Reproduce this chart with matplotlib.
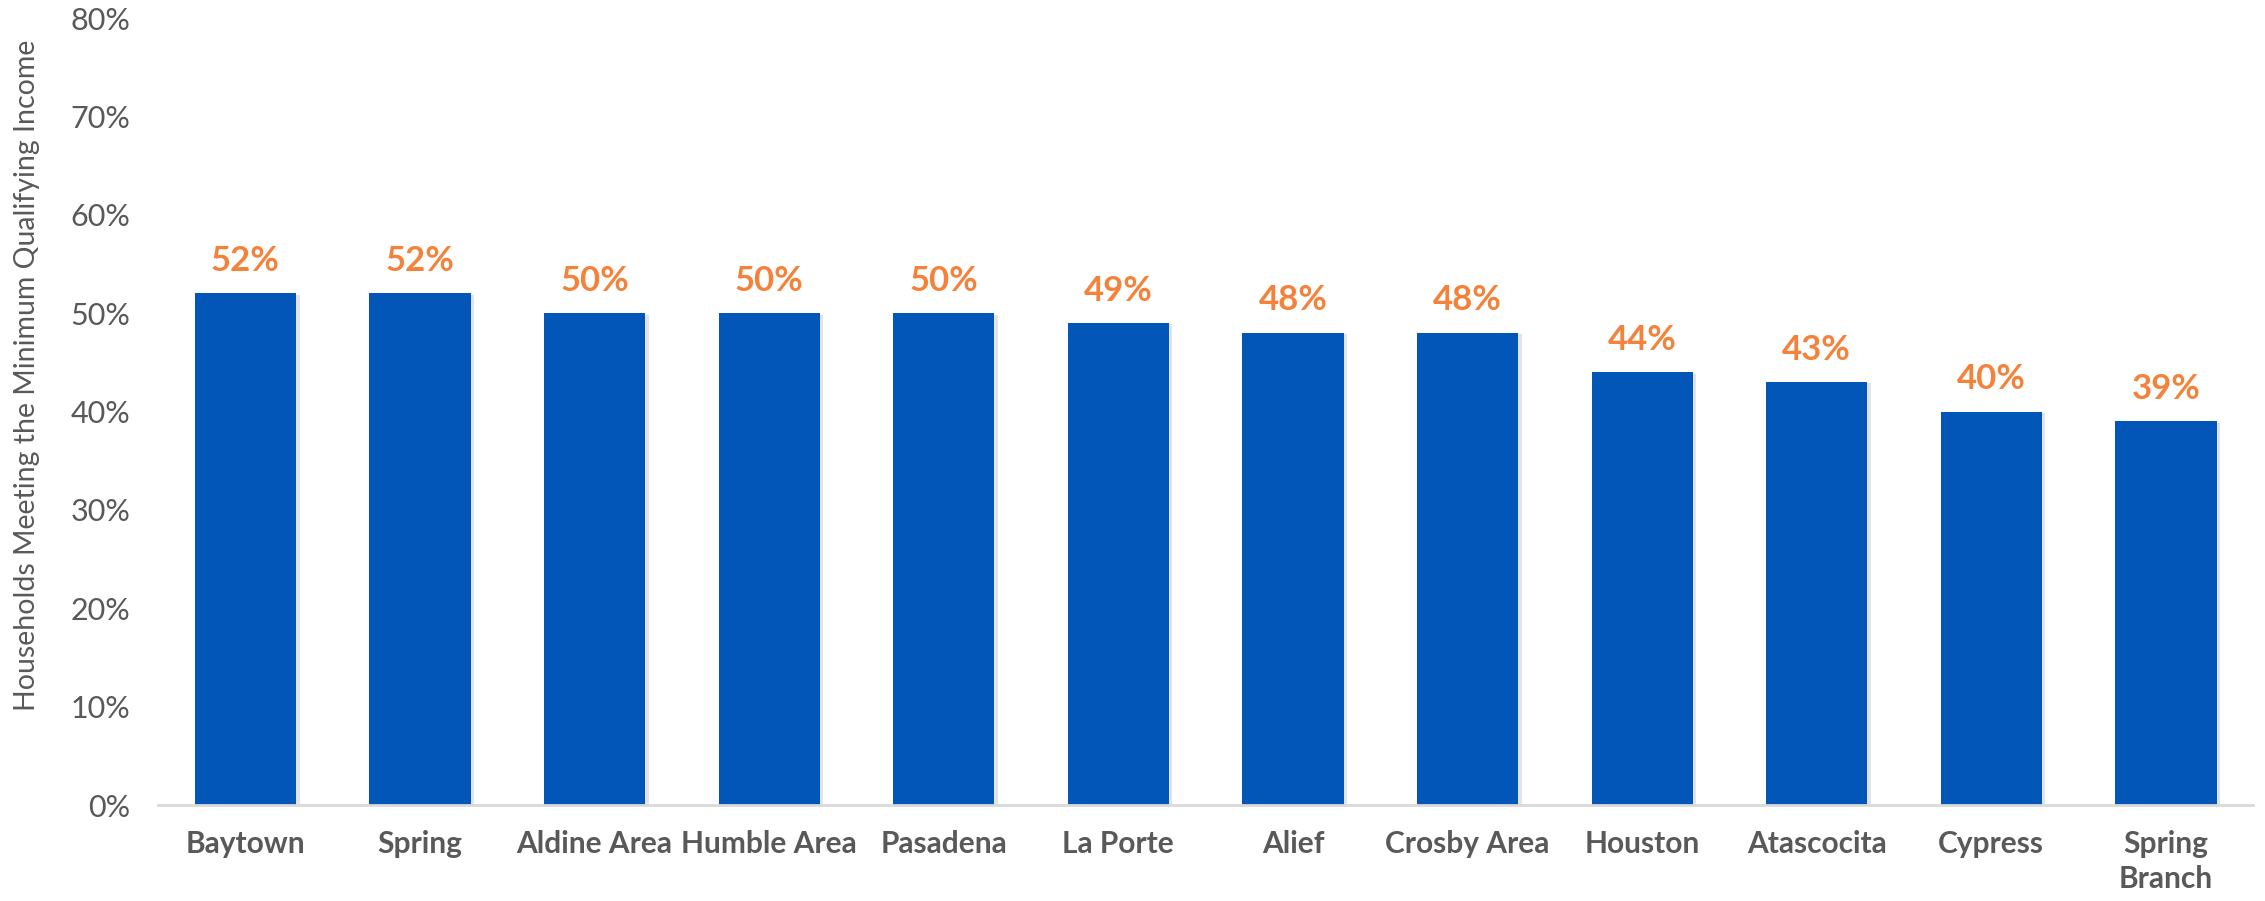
import numpy as np
import matplotlib.pyplot as plt
from matplotlib.ticker import FuncFormatter

areas = ["Baytown", "Spring", "Aldine Area", "Humble Area", "Pasadena", "La Porte",
         "Alief", "Crosby Area", "Houston", "Atascocita", "Cypress", "Spring\nBranch"]
share = [52, 52, 50, 50, 50, 49, 48, 48, 44, 43, 40, 39]
yticks = [0, 10, 20, 30, 40, 50, 60, 70, 80]

plt.rcParams['font.family'] = ['Lato', 'DejaVu Sans']

fig = plt.figure(figsize=(22.65, 9.01), dpi=100)
ax = fig.add_axes([0.0698, 0.1065, 0.925, 0.8735])

x = np.arange(len(areas))
# faint shadow behind bars
ax.bar(x + 0.02, np.array(share) - 0.15, width=0.58, color='#c8c8c8', alpha=0.5, zorder=1)
ax.bar(x, share, width=0.58, color='#0156B7', zorder=2)

for xi, v in zip(x, share):
    ax.text(xi, v + 3.3, f"{v}%", ha='center', va='center', fontsize=25,
            fontweight='bold', color='#F4823A')

ax.set_xlim(-0.5, len(areas) - 0.5)
ax.set_ylim(0, 80)
ax.set_yticks(yticks)
ax.yaxis.set_major_formatter(FuncFormatter(lambda v, p: f"{int(v)}%"))
ax.set_xticks(x)
ax.set_xticklabels(areas, fontsize=21.5, fontweight='bold', color='#595959',
                   linespacing=1.3)
ax.tick_params(axis='y', labelsize=22, labelcolor='#595959', length=0, pad=20)
ax.tick_params(axis='x', length=0, pad=18)

for s in ['top', 'right', 'left']:
    ax.spines[s].set_visible(False)
ax.spines['bottom'].set_color('#D9D9D9')
ax.spines['bottom'].set_linewidth(2)
ax.spines['bottom'].set_zorder(3)

ax.set_ylabel("Households Meeting the Minimum Qualifying Income", fontsize=20.5,
              color='#595959')
ax.yaxis.set_label_coords(-0.0565, 0.546)

fig.savefig("out.png", dpi=100)
